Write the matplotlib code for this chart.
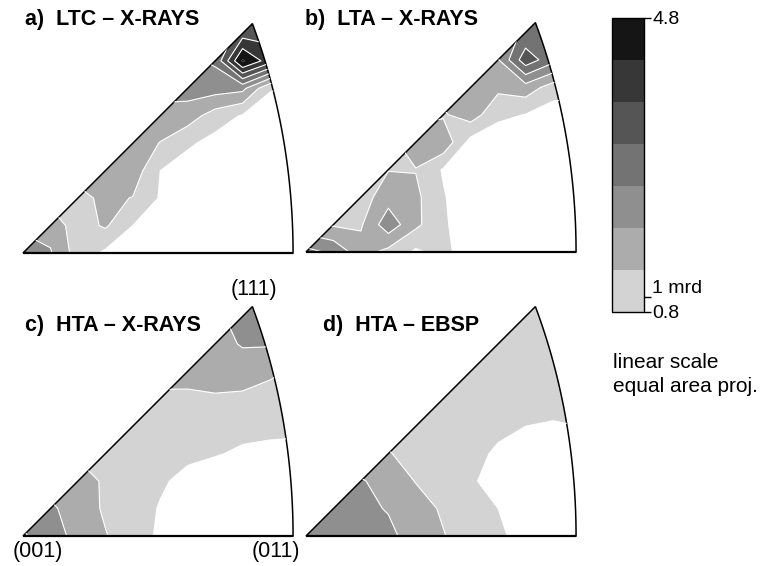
import numpy as np
import matplotlib
matplotlib.use("Agg")
import matplotlib.pyplot as plt
from matplotlib.colors import ListedColormap, BoundaryNorm
from matplotlib.patches import Polygon
import matplotlib.cm as cm

plt.rcParams['font.family'] = ['Liberation Sans', 'DejaVu Sans']

# colour scale (mrd), linear, 7 grey bands
levels = [0.8, 1.371, 1.943, 2.514, 3.086, 3.657, 4.229, 4.8]
greys = ['#d3d3d3', '#acacac', '#8f8f8f', '#737373', '#555555', '#373737', '#151515']
cbar_ticks = [0.8, 1.0, 4.8]
cbar_labels = ['0.8', '1 mrd', '4.8']

titles = ["a)  LTC – X-RAYS", "b)  LTA – X-RAYS", "c)  HTA – X-RAYS", "d)  HTA – EBSP"]

# sample nodes (equal area projection units), (001) at the origin
grid_x = [0.0, 0.055, 0.11, 0.165, 0.22, 0.275, 0.33, 0.385, 0.44, 0.495, 0.55]
grid_y = [0.0, 0.055, 0.11, 0.165, 0.22, 0.275, 0.33, 0.385, 0.44, 0.495]

# densities, rows from top (y=0.495) to bottom (y=0)
dens_a = [
    [2.0, 2.0, 2.0, 2.0, 2.0, 2.0, 2.0, 2.0, 2.8, 2.8, 2.0],
    [2.0, 2.0, 2.0, 2.0, 2.0, 2.0, 2.0, 2.4, 3.4, 3.5, 2.0],
    [2.0, 2.0, 2.0, 2.0, 2.0, 2.0, 2.4, 2.6, 4.9, 3.9, 2.0],
    [2.0, 2.0, 2.0, 2.0, 2.0, 2.2, 2.2, 2.2, 2.1, 0.85, 0.7],
    [1.7, 1.7, 1.7, 1.7, 1.7, 1.7, 1.65, 1.1, 0.75, 0.5, 0.5],
    [1.6, 1.6, 1.6, 1.6, 1.7, 1.35, 0.9, 0.6, 0.4, 0.4, 0.4],
    [1.6, 1.6, 1.6, 1.6, 1.7, 0.8, 0.5, 0.4, 0.4, 0.4, 0.4],
    [1.2, 1.2, 1.2, 1.5, 1.35, 0.75, 0.4, 0.4, 0.4, 0.4, 0.4],
    [1.8, 1.7, 1.1, 1.45, 0.8, 0.5, 0.4, 0.4, 0.4, 0.4, 0.4],
    [2.3, 2.0, 1.1, 0.7, 0.4, 0.4, 0.4, 0.4, 0.4, 0.4, 0.4],
]
dens_b = [
    [1.8, 1.8, 1.8, 1.8, 1.8, 1.8, 1.8, 1.8, 2.5, 2.5, 1.8],
    [1.8, 1.8, 1.8, 1.8, 1.8, 1.8, 1.8, 2.2, 2.6, 2.8, 1.8],
    [1.8, 1.8, 1.8, 1.8, 1.8, 1.8, 2.0, 1.9, 3.45, 2.7, 2.0],
    [1.7, 1.7, 1.7, 1.7, 1.7, 1.7, 1.6, 1.5, 1.7, 1.1, 1.0],
    [1.2, 1.2, 1.2, 1.2, 1.2, 1.3, 1.65, 0.95, 0.78, 0.5, 0.5],
    [1.2, 1.2, 1.2, 1.2, 1.7, 1.8, 0.6, 0.4, 0.4, 0.4, 0.4],
    [1.2, 1.2, 1.2, 1.35, 1.35, 0.75, 0.4, 0.4, 0.4, 0.4, 0.4],
    [1.2, 1.2, 1.1, 1.7, 1.5, 0.85, 0.4, 0.4, 0.4, 0.4, 0.4],
    [1.5, 1.3, 1.3, 2.3, 1.5, 0.9, 0.4, 0.4, 0.4, 0.4, 0.4],
    [2.7, 2.4, 1.6, 1.2, 0.7, 1.0, 0.4, 0.4, 0.4, 0.4, 0.4],
]
dens_c = [
    [1.7, 1.7, 1.7, 1.7, 1.7, 1.7, 1.7, 1.7, 2.2, 2.2, 1.7],
    [1.7, 1.7, 1.7, 1.7, 1.7, 1.7, 1.7, 1.8, 2.2, 2.2, 1.7],
    [1.7, 1.7, 1.7, 1.7, 1.7, 1.7, 1.7, 1.7, 2.0, 2.0, 1.8],
    [1.6, 1.6, 1.6, 1.6, 1.6, 1.6, 1.5, 1.65, 1.6, 1.45, 1.3],
    [1.25, 1.25, 1.25, 1.25, 1.25, 1.25, 1.3, 1.3, 1.28, 1.2, 1.2],
    [1.2, 1.2, 1.2, 1.2, 1.2, 1.15, 1.15, 1.1, 1.0, 1.0, 0.95],
    [1.3, 1.3, 1.3, 1.2, 1.15, 1.1, 0.95, 0.85, 0.7, 0.6, 0.6],
    [1.7, 1.7, 1.6, 1.3, 1.15, 0.9, 0.6, 0.4, 0.4, 0.4, 0.4],
    [2.2, 2.05, 1.65, 1.3, 1.15, 0.75, 0.45, 0.4, 0.4, 0.4, 0.4],
    [2.6, 2.15, 1.8, 1.4, 1.1, 0.7, 0.45, 0.4, 0.4, 0.4, 0.4],
]
dens_d = [
    [1.15, 1.15, 1.15, 1.15, 1.15, 1.15, 1.15, 1.15, 1.15, 1.15, 1.15],
    [1.15, 1.15, 1.15, 1.15, 1.15, 1.15, 1.15, 1.15, 1.15, 1.15, 1.15],
    [1.15, 1.15, 1.15, 1.15, 1.15, 1.15, 1.15, 1.15, 1.15, 1.15, 1.15],
    [1.15, 1.15, 1.15, 1.15, 1.15, 1.15, 1.15, 1.15, 1.15, 1.15, 1.15],
    [1.2, 1.2, 1.2, 1.2, 1.2, 1.2, 1.2, 1.15, 1.05, 1.0, 1.0],
    [1.2, 1.2, 1.2, 1.2, 1.2, 1.2, 1.15, 0.95, 0.8, 0.75, 0.8],
    [1.5, 1.5, 1.5, 1.4, 1.2, 1.15, 1.0, 0.7, 0.45, 0.5, 0.55],
    [2.0, 2.0, 2.0, 1.7, 1.35, 1.15, 0.9, 0.5, 0.4, 0.45, 0.5],
    [2.2, 2.15, 2.1, 1.9, 1.6, 1.3, 1.1, 0.8, 0.5, 0.45, 0.5],
    [2.3, 2.2, 2.1, 2.1, 1.65, 1.4, 1.1, 0.9, 0.6, 0.5, 0.5],
]
panels = [dens_a, dens_b, dens_c, dens_d]

# standard triangle (001)-(011)-(111) in equal area projection
phi = np.radians(np.linspace(0, 45, 80))
theta = np.arctan(1 / np.cos(phi))
r = np.sqrt(2) * np.sin(theta / 2)
tri = np.vstack([[0, 0], np.column_stack([r * np.cos(phi), r * np.sin(phi)])])

W, H = 768, 566
fig = plt.figure(figsize=(W / 100, H / 100), dpi=100)
scale = 499  # px per projection unit
xlo, xhi, ylo, yhi = -0.02, 0.56, -0.02, 0.48
origins = [(23, 253), (306, 252), (23, 536), (306, 536)]
title_pos = [(25, 19), (305, 19), (25, 325), (323, 325)]

for dens, (ox, oy), title, (tx, ty) in zip(panels, origins, titles, title_pos):
    ax = fig.add_axes([(ox + xlo * scale) / W, (H - oy + ylo * scale) / H,
                       (xhi - xlo) * scale / W, (yhi - ylo) * scale / H])
    ax.set_xlim(xlo, xhi)
    ax.set_ylim(ylo, yhi)
    ax.axis('off')
    Z = np.flipud(np.array(dens))
    clip = Polygon(tri, closed=True, fc='none', ec='none', transform=ax.transData)
    ax.add_patch(clip)
    cf = ax.contourf(grid_x, grid_y, Z, levels=levels, colors=greys + [greys[-1]],
                     extend='max', antialiased=True)
    cf.set_clip_path(clip)
    cl = ax.contour(grid_x, grid_y, Z, levels=levels[:-1], colors='white', linewidths=0.8)
    cl.set_clip_path(clip)
    ax.add_patch(Polygon(tri, closed=True, fill=False, ec='black', lw=1.1))
    ax.plot([0, r[0]], [0, 0], color='black', lw=1.6, solid_capstyle='butt')
    fig.text(tx / W, 1 - ty / H, title, fontsize=15.5, fontweight='bold',
             ha='left', va='center')

# corner labels
fig.text(254 / W, 1 - 289 / H, '(111)', fontsize=15.5, ha='center', va='center')
fig.text(38 / W, 1 - 551 / H, '(001)', fontsize=15.5, ha='center', va='center')
fig.text(276 / W, 1 - 551 / H, '(011)', fontsize=15.5, ha='center', va='center')

# colour bar
cax = fig.add_axes([612 / W, (H - 312) / H, 32 / W, 294 / H])
norm = BoundaryNorm(levels, len(greys))
sm = cm.ScalarMappable(norm=norm, cmap=ListedColormap(greys))
cb = fig.colorbar(sm, cax=cax, ticks=cbar_ticks)
cb.set_ticklabels(cbar_labels)
cb.ax.minorticks_off()
cb.outline.set_linewidth(1.0)
cax.tick_params(length=5, width=1, labelsize=14, pad=1)
tl = cax.get_yticklabels()
tl[1].set_va('bottom')

fig.text(613 / W, 1 - 363 / H, 'linear scale', fontsize=15, ha='left', va='center')
fig.text(613 / W, 1 - 386 / H, 'equal area proj.', fontsize=15, ha='left', va='center')

fig.savefig('out.png', dpi=100, facecolor='white')
